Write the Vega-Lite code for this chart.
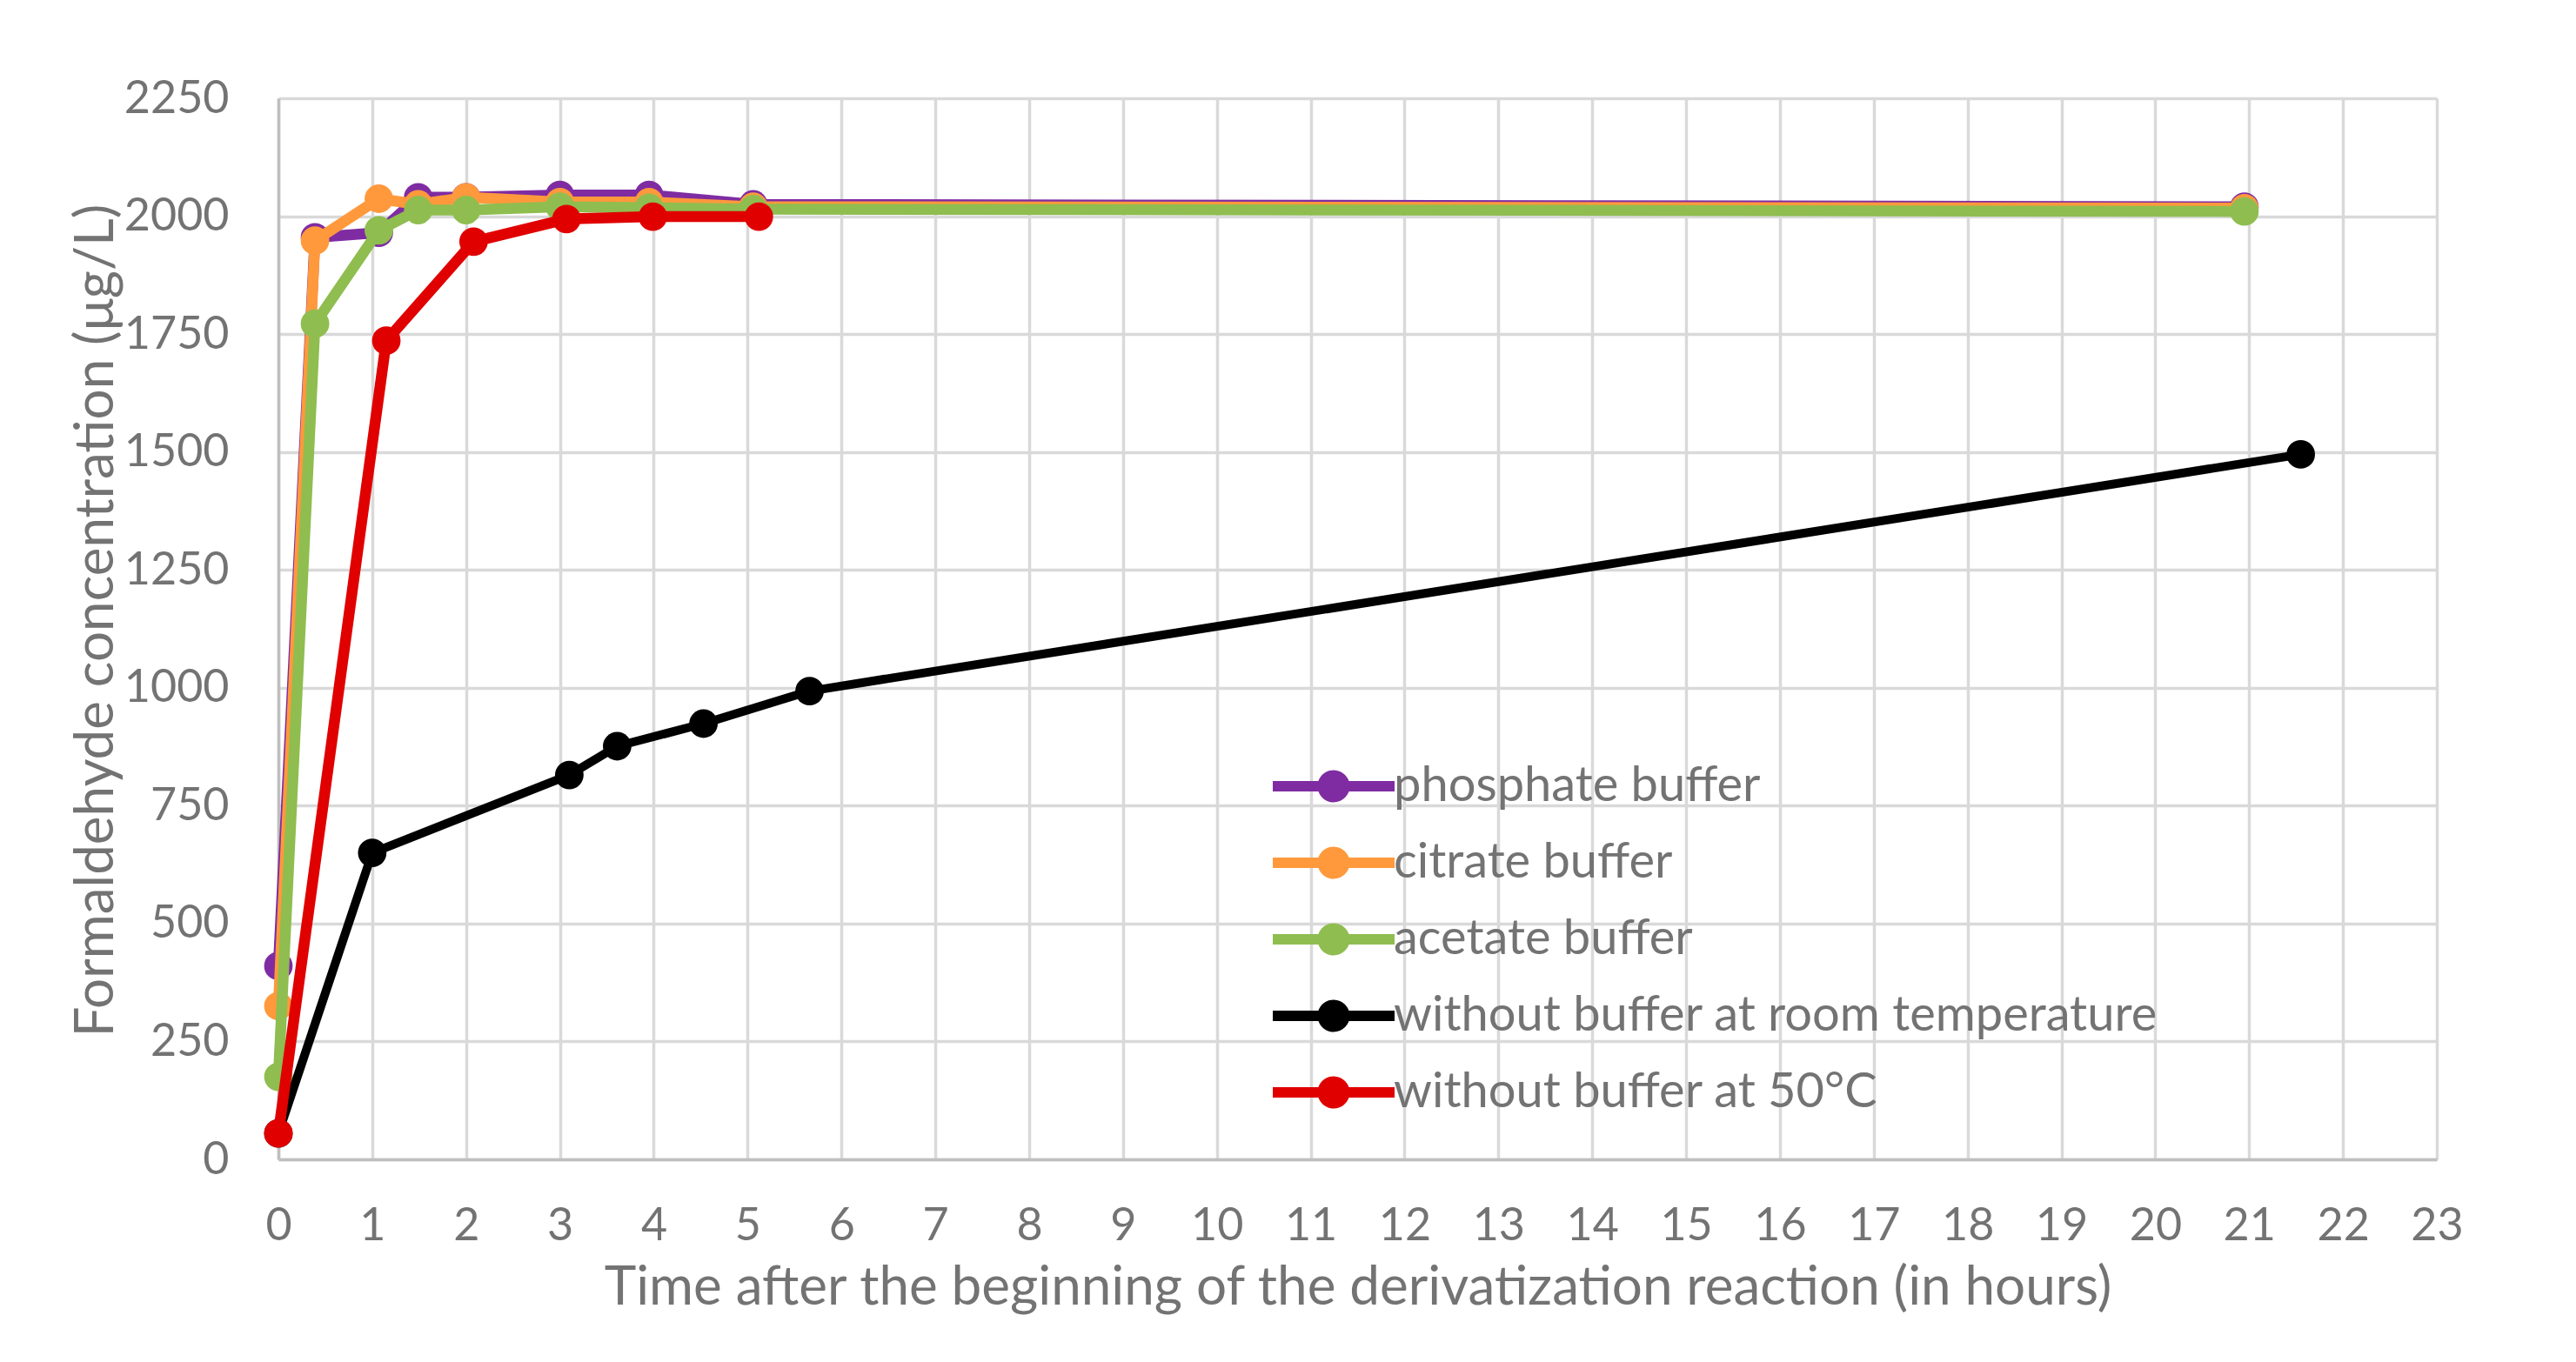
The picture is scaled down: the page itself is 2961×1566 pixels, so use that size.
{
  "$schema": "https://vega.github.io/schema/vega-lite/v6.json",
  "width": 2481,
  "height": 1220,
  "autosize": {"type": "none"},
  "padding": {"left": 320, "top": 113, "right": 160, "bottom": 233},
  "background": "white",
  "data": {"values": [
    {"series": "phosphate buffer", "time": 0, "conc": 410},
    {"series": "phosphate buffer", "time": 0.39, "conc": 1955},
    {"series": "phosphate buffer", "time": 1.07, "conc": 1965},
    {"series": "phosphate buffer", "time": 1.49, "conc": 2040},
    {"series": "phosphate buffer", "time": 2.0, "conc": 2040},
    {"series": "phosphate buffer", "time": 3.0, "conc": 2045},
    {"series": "phosphate buffer", "time": 3.95, "conc": 2045},
    {"series": "phosphate buffer", "time": 5.06, "conc": 2025},
    {"series": "phosphate buffer", "time": 20.95, "conc": 2020},
    {"series": "citrate buffer", "time": 0, "conc": 325},
    {"series": "citrate buffer", "time": 0.39, "conc": 1948},
    {"series": "citrate buffer", "time": 1.07, "conc": 2037},
    {"series": "citrate buffer", "time": 1.49, "conc": 2025},
    {"series": "citrate buffer", "time": 2.0, "conc": 2040},
    {"series": "citrate buffer", "time": 3.0, "conc": 2030},
    {"series": "citrate buffer", "time": 3.95, "conc": 2030},
    {"series": "citrate buffer", "time": 5.06, "conc": 2020},
    {"series": "citrate buffer", "time": 20.95, "conc": 2017},
    {"series": "acetate buffer", "time": 0, "conc": 175},
    {"series": "acetate buffer", "time": 0.39, "conc": 1772},
    {"series": "acetate buffer", "time": 1.07, "conc": 1970},
    {"series": "acetate buffer", "time": 1.49, "conc": 2013},
    {"series": "acetate buffer", "time": 2.0, "conc": 2013},
    {"series": "acetate buffer", "time": 3.0, "conc": 2020},
    {"series": "acetate buffer", "time": 3.95, "conc": 2018},
    {"series": "acetate buffer", "time": 5.06, "conc": 2015},
    {"series": "acetate buffer", "time": 20.95, "conc": 2010},
    {"series": "without buffer at room temperature", "time": 0, "conc": 55},
    {"series": "without buffer at room temperature", "time": 1.0, "conc": 650},
    {"series": "without buffer at room temperature", "time": 3.1, "conc": 815},
    {"series": "without buffer at room temperature", "time": 3.61, "conc": 876},
    {"series": "without buffer at room temperature", "time": 4.53, "conc": 924},
    {"series": "without buffer at room temperature", "time": 5.66, "conc": 993},
    {"series": "without buffer at room temperature", "time": 21.55, "conc": 1495},
    {"series": "without buffer at 50°C", "time": 0, "conc": 55},
    {"series": "without buffer at 50°C", "time": 1.15, "conc": 1736},
    {"series": "without buffer at 50°C", "time": 2.08, "conc": 1946},
    {"series": "without buffer at 50°C", "time": 3.07, "conc": 1994},
    {"series": "without buffer at 50°C", "time": 3.99, "conc": 1999},
    {"series": "without buffer at 50°C", "time": 5.12, "conc": 1999}
  ]},
  "encoding": {
    "x": {
      "field": "time", "type": "quantitative",
      "scale": {"domain": [0, 23], "nice": false, "zero": false},
      "axis": {
        "values": [0,1,2,3,4,5,6,7,8,9,10,11,12,13,14,15,16,17,18,19,20,21,22,23],
        "format": "d",
        "title": "Time after the beginning of the derivatization reaction (in hours)",
        "labelPadding": 51,
        "titleY": 166,
        "titleBaseline": "alphabetic"
      }
    },
    "y": {
      "field": "conc", "type": "quantitative",
      "scale": {"domain": [0, 2250], "nice": false},
      "axis": {
        "values": [0,250,500,750,1000,1250,1500,1750,2000,2250],
        "format": "d",
        "title": "Formaldehyde concentration (μg/L)",
        "labelPadding": 57,
        "titleAngle": 270,
        "titleX": -210,
        "titleY": 600,
        "titleBaseline": "middle",
        "titleAlign": "center"
      }
    },
    "color": {
      "field": "series", "type": "nominal",
      "scale": {
        "domain": ["phosphate buffer", "citrate buffer", "acetate buffer", "without buffer at room temperature", "without buffer at 50°C"],
        "range": ["#7f2ca2", "#ff993c", "#8fbd50", "#000000", "#e00000"]
      },
      "legend": {
        "orient": "none",
        "legendX": 1185,
        "legendY": 763,
        "title": null,
        "symbolType": "M-3.5,-0.3 L3.5,-0.3 L3.5,0.3 L-3.5,0.3 Z M-0.925,0 A0.925,0.925 0 1,1 0.925,0 A0.925,0.925 0 1,1 -0.925,0 Z",
        "symbolSize": 1600,
        "symbolStrokeWidth": 0,
        "symbolOpacity": 1,
        "labelFont": "Lato",
        "labelFontSize": 56,
        "labelColor": "#737373",
        "labelOffset": 41,
        "labelLimit": 0,
        "rowPadding": 32,
        "encode": {"symbols": {"update": {"fill": {"scale": "color", "field": "value"}, "stroke": {"value": "transparent"}}}}
      }
    }
  },
  "layer": [
    {"transform": [{"filter": "datum.series === 'phosphate buffer'"}], "mark": {"type": "line", "strokeWidth": 12.5, "strokeJoin": "round"}},
    {"transform": [{"filter": "datum.series === 'phosphate buffer'"}], "mark": {"type": "point", "filled": true, "size": 1075, "opacity": 1, "shape": "circle"}},
    {"transform": [{"filter": "datum.series === 'citrate buffer'"}], "mark": {"type": "line", "strokeWidth": 12.5, "strokeJoin": "round"}},
    {"transform": [{"filter": "datum.series === 'citrate buffer'"}], "mark": {"type": "point", "filled": true, "size": 1075, "opacity": 1, "shape": "circle"}},
    {"transform": [{"filter": "datum.series === 'acetate buffer'"}], "mark": {"type": "line", "strokeWidth": 12.5, "strokeJoin": "round"}},
    {"transform": [{"filter": "datum.series === 'acetate buffer'"}], "mark": {"type": "point", "filled": true, "size": 1075, "opacity": 1, "shape": "circle"}},
    {"transform": [{"filter": "datum.series === 'without buffer at room temperature'"}], "mark": {"type": "line", "strokeWidth": 10, "strokeJoin": "round"}},
    {"transform": [{"filter": "datum.series === 'without buffer at room temperature'"}], "mark": {"type": "point", "filled": true, "size": 1075, "opacity": 1, "shape": "circle"}},
    {"transform": [{"filter": "datum.series === 'without buffer at 50°C'"}], "mark": {"type": "line", "strokeWidth": 12.5, "strokeJoin": "round"}},
    {"transform": [{"filter": "datum.series === 'without buffer at 50°C'"}], "mark": {"type": "point", "filled": true, "size": 1075, "opacity": 1, "shape": "circle"}}
  ],
  "config": {
    "view": {"stroke": null},
    "font": "Lato",
    "axis": {
      "labelFont": "Lato",
      "labelFontSize": 52,
      "labelColor": "#737373",
      "titleFont": "Lato",
      "titleFontSize": 62,
      "titleFontWeight": "normal",
      "titleColor": "#737373",
      "ticks": false,
      "tickSize": 0,
      "labelFlush": false,
      "labelOverlap": false,
      "domainColor": "#bfbfbf",
      "domainWidth": 3.5,
      "gridColor": "#d9d9d9",
      "gridWidth": 3.5,
      "grid": true
    }
  }
}
